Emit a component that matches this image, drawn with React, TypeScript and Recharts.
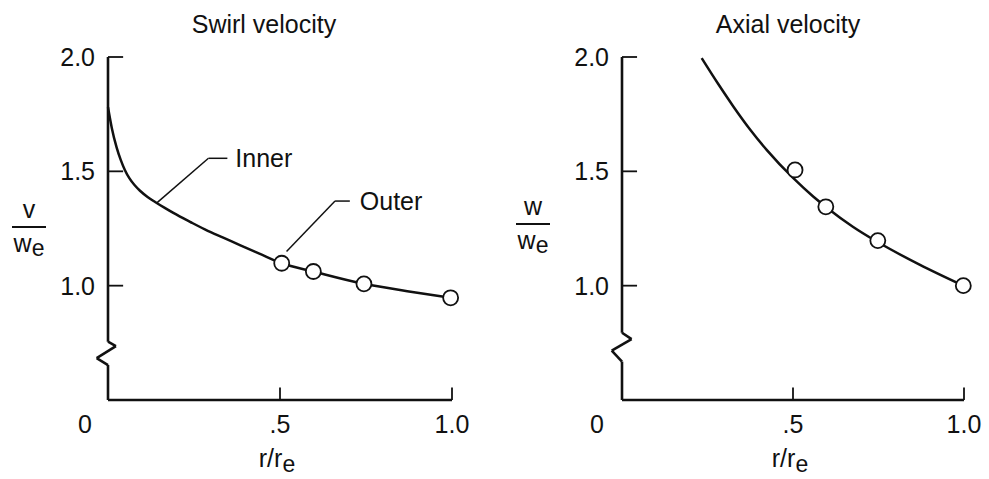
import React from 'react';
import { ComposedChart, Line, Scatter, XAxis, YAxis, ReferenceLine, Label, Customized } from 'recharts';

const FONT = '"Liberation Sans", Arial, Helvetica, sans-serif';
const INK = '#111';

// Swirl velocity, v / we against r / re
const swirlR = [0, 0.011, 0.025, 0.037, 0.049, 0.062, 0.077, 0.093, 0.115, 0.137, 0.165, 0.19, 0.24, 0.29, 0.335, 0.385, 0.44, 0.505, 0.597, 0.744, 0.87, 0.996];
const swirlV = [1.78, 1.69, 1.605, 1.55, 1.506, 1.47, 1.44, 1.415, 1.388, 1.366, 1.34, 1.318, 1.278, 1.24, 1.21, 1.176, 1.14, 1.098, 1.062, 1.008, 0.976, 0.947];
const swirlPtR = [0.505, 0.597, 0.744, 0.996];
const swirlPtV = [1.098, 1.062, 1.008, 0.947];

// Axial velocity, w / we against r / re
const axialR = [0.233, 0.28, 0.325, 0.375, 0.423, 0.501, 0.559, 0.6, 0.675, 0.745, 0.87, 0.998];
const axialW = [1.995, 1.885, 1.785, 1.682, 1.594, 1.47, 1.39, 1.34, 1.258, 1.193, 1.092, 1.0];
const axialPtR = [0.506, 0.596, 0.748, 0.998];
const axialPtW = [1.506, 1.345, 1.197, 1.0];

const xTicks = [0, 0.5, 1];
const xTickLabels = ['0', '.5', '1.0'];
const yTicks = [1.0, 1.5, 2.0];
const yTickLabels = ['1.0', '1.5', '2.0'];

const zip = (xs: number[], ys: number[]) => xs.map((r, i) => ({ r, v: ys[i] }));

type Pt = { x: number; y: number };
type Note = { from: Pt; corner: Pt; to: Pt; text: string; offset: number };

function Fraction({ cx, barY, numer }: { cx: number; barY: number; numer: string }) {
  return (
    <g fontFamily={FONT} fill={INK}>
      <text x={cx} y={barY - 9} textAnchor="middle" fontSize={25}>{numer}</text>
      <line x1={cx - 17} x2={cx + 17} y1={barY} y2={barY} stroke={INK} strokeWidth={2} />
      <text x={cx} y={barY + 25} textAnchor="middle" fontSize={25}>
        w<tspan fontSize={23} dy={4}>e</tspan>
      </text>
    </g>
  );
}

function Panel(props: {
  left: number; width: number; marginLeft: number; marginRight: number;
  title: string; titleX: number; curve: { r: number; v: number }[]; pts: { r: number; v: number }[];
  numer: string; fracX: number; fracY: number; zeroShift: number; brk: Pt[]; notes: Note[];
}) {
  const { brk } = props;
  const seg = (a: Pt, b: Pt, w: number, key: string) => (
    <ReferenceLine key={key} segment={[a, b]} stroke={INK} strokeWidth={w} ifOverflow="visible" />
  );
  const axisPath: Pt[] = [{ x: 0, y: 2.0 }, ...brk, { x: 0, y: 0.5 }, { x: 1, y: 0.5 }];
  return (
    <div style={{ position: 'absolute', left: props.left, top: 0 }}>
      <ComposedChart width={props.width} height={479} margin={{ top: 57, right: props.marginRight, bottom: 0, left: props.marginLeft }}>
        <XAxis
          type="number" dataKey="r" domain={[0, 1]} ticks={xTicks} height={79}
          axisLine={false} tickLine={false} tickSize={0} tickMargin={15} interval={0}
          tick={(p: any) => {
            const i = xTicks.indexOf(p.payload.value);
            return (
              <text x={p.x + (i === 0 ? props.zeroShift : 0)} y={p.y} dy="0.71em" textAnchor="middle" fontSize={25} fontFamily={FONT} fill={INK}>
                {xTickLabels[i]}
              </text>
            );
          }}
        >
          <Label content={(lp: any) => {
            const vb = lp.viewBox;
            return (
              <text x={vb.x + vb.width * 0.5 - 3} y={467} textAnchor="middle" fontSize={25} fontFamily={FONT} fill={INK}>
                r/r<tspan fontSize={23} dy={5}>e</tspan>
              </text>
            );
          }} />
        </XAxis>
        <YAxis
          type="number" domain={[0.5, 2.0]} ticks={yTicks} width={70} interval={0}
          axisLine={false} tickLine={false} tickSize={0} tickMargin={13}
          tickFormatter={(v: number) => yTickLabels[yTicks.indexOf(v)]}
          tick={{ fontSize: 25, fontFamily: FONT, fill: INK }}
        />
        {axisPath.slice(1).map((p, i) => seg(axisPath[i], p, 2.6, 'ax' + i))}
        {yTicks.map((t) => seg({ x: 0, y: t }, { x: 0.044, y: t }, 1.8, 'yt' + t))}
        {[0.5, 1].map((t) => seg({ x: t, y: 0.5 }, { x: t, y: 0.555 }, 1.8, 'xt' + t))}
        {props.notes.map((n, i) => [
          seg(n.from, n.corner, 1.5, 'na' + i),
          <ReferenceLine key={'nb' + i} segment={[n.corner, n.to]} stroke={INK} strokeWidth={1.5} ifOverflow="visible">
            <Label value={n.text} position="right" offset={n.offset} fontSize={25} fontFamily={FONT} fill={INK} />
          </ReferenceLine>,
        ])}
        <Line data={props.curve} dataKey="v" type="monotone" stroke={INK} strokeWidth={2.5} dot={false} isAnimationActive={false} />
        <Scatter
          data={props.pts} dataKey="v" isAnimationActive={false}
          shape={(p: any) => <circle cx={p.cx} cy={p.cy} r={7.5} fill="#fff" stroke={INK} strokeWidth={1.8} />}
        />
        <Customized component={() => (
          <g>
            <text x={props.titleX} y={33} textAnchor="middle" fontSize={25} fontFamily={FONT} fill={INK}>{props.title}</text>
            <Fraction cx={props.fracX} barY={props.fracY} numer={props.numer} />
          </g>
        )} />
      </ComposedChart>
    </div>
  );
}

export default function App() {
  return (
    <div style={{ position: 'absolute', left: 0, top: 0, width: 989, height: 479, background: '#fff', overflow: 'hidden' }}>
      <Panel
        left={0} width={490} marginLeft={38} marginRight={38}
        title="Swirl velocity" titleX={264}
        curve={zip(swirlR, swirlV)} pts={zip(swirlPtR, swirlPtV)}
        numer="v" fracX={29} fracY={227} zeroShift={-23}
        brk={[{ x: 0, y: 0.755 }, { x: 0.023, y: 0.736 }, { x: -0.033, y: 0.683 }, { x: 0, y: 0.653 }]}
        notes={[
          { from: { x: 0.142, y: 1.362 }, corner: { x: 0.292, y: 1.557 }, to: { x: 0.347, y: 1.557 }, text: 'Inner', offset: 8 },
          { from: { x: 0.519, y: 1.149 }, corner: { x: 0.66, y: 1.37 }, to: { x: 0.703, y: 1.37 }, text: 'Outer', offset: 10 },
        ]}
      />
      <Panel
        left={500} width={489} marginLeft={52} marginRight={25}
        title="Axial velocity" titleX={288}
        curve={zip(axialR, axialW)} pts={zip(axialPtR, axialPtW)}
        numer="w" fracX={33} fracY={224} zeroShift={-25}
        brk={[{ x: 0, y: 0.794 }, { x: 0.028, y: 0.766 }, { x: -0.03, y: 0.716 }, { x: 0, y: 0.668 }]}
        notes={[]}
      />
    </div>
  );
}
